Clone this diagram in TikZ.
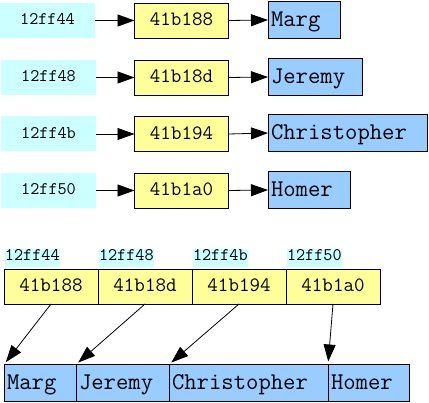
\documentclass[tikz,border=0pt]{standalone}
\usepackage{fontspec}
\usepackage{tikz}
\usetikzlibrary{arrows.meta,positioning}
\definecolor{addrcyan}{HTML}{CCFFFF}
\definecolor{ptryellow}{HTML}{FFFF99}
\definecolor{strblue}{HTML}{99CCFF}
\newcommand\addrtext{\ttfamily\fontsize{17.7pt}{20pt}\selectfont}
\newcommand\ptrtext{\ttfamily\fontsize{20.4pt}{23pt}\selectfont}
\newcommand\strtext{\ttfamily\fontsize{24pt}{27pt}\selectfont}
\begin{document}
\begin{tikzpicture}[
    x=1pt, y=-1pt,
    >={Triangle[length=17pt,width=12pt]},
    addr/.style={fill=addrcyan, inner sep=0pt, outer sep=0pt,
                 minimum width=95pt, minimum height=35pt,
                 text height=12pt, text depth=3pt, font=\addrtext},
    lbl/.style={fill=addrcyan, inner sep=0pt, outer sep=0pt,
                minimum height=18pt, text height=11pt, text depth=5pt,
                font=\addrtext},
    ptr/.style={draw=black, fill=ptryellow, line width=0.8pt, inner sep=0pt,
                outer sep=0pt, minimum width=94pt, minimum height=35pt,
                text height=14pt, text depth=3pt, font=\ptrtext},
    strbox/.style={draw=black, fill=strblue, line width=0.8pt, inner xsep=3pt,
                   inner ysep=0pt, outer sep=0pt, minimum height=37pt,
                   text height=16pt, text depth=3pt,
                   align=left, font=\strtext},
    link/.style={->, line width=0.8pt, black},
]
\useasboundingbox (0,0) rectangle (429,403);

% --- one pointer per variable ---
\node[addr, anchor=west] (a1) at (0,20.5) {12ff44};
\node[ptr] (p1) at (181.5,20.5) {41b188};
\node[strbox, text width=66pt, anchor=south west] (n1) at (268,38.5) {Marg};

\node[addr, anchor=west] (a2) at (1,77.5) {12ff48};
\node[ptr] (p2) at (181.5,77.5) {41b18d};
\node[strbox, text width=88pt, anchor=south west] (n2) at (268,95.5) {Jeremy};

\node[addr, anchor=west] (a3) at (1,134) {12ff4b};
\node[ptr] (p3) at (181.5,134) {41b194};
\node[strbox, text width=153pt, anchor=south west] (n3) at (268,151.5) {Christopher};

\node[addr, anchor=west] (a4) at (1,190.5) {12ff50};
\node[ptr] (p4) at (181.5,190.5) {41b1a0};
\node[strbox, text width=76pt, anchor=south west] (n4) at (268,208.5) {Homer};

\draw[link] (a1.east) -- (p1.west);
\draw[link] (p1.east) -- (n1.west);
\draw[link] (a2.east) -- (p2.west);
\draw[link] (p2.east) -- (n2.west);
\draw[link] (a3.east) -- (p3.west);
\draw[link] (p3.east) -- (n3.west);
\draw[link] (a4.east) -- (p4.west);
\draw[link] (p4.east) -- (n4.west);

% --- the same pointers as one array ---
\node[ptr, anchor=north west] (c1) at (4,269) {41b188};
\node[ptr, right=0pt of c1] (c2) {41b18d};
\node[ptr, right=0pt of c2] (c3) {41b194};
\node[ptr, right=0pt of c3] (c4) {41b1a0};

\node[lbl, above right=2pt and 1pt of c1.north west] (l1) {12ff44};
\node[lbl, above right=2pt and 1pt of c2.north west] (l2) {12ff48};
\node[lbl, above right=2pt and 1pt of c3.north west] (l3) {12ff4b};
\node[lbl, above right=2pt and 1pt of c4.north west] (l4) {12ff50};

% --- the strings, packed end to end ---
\node[strbox, text width=66pt, anchor=north west] (s1) at (4,364.5) {Marg};
\node[strbox, text width=87pt, right=0pt of s1] (s2) {Jeremy};
\node[strbox, text width=153pt, right=0pt of s2] (s3) {Christopher};
\node[strbox, text width=75pt, right=0pt of s3] (s4) {Homer};

\draw[link, shorten >=3pt] (c1.south) -- (s1.north west);
\draw[link, shorten >=3pt] (c2.south) -- (s2.north west);
\draw[link, shorten >=3pt] (c3.south) -- (s3.north west);
\draw[link, shorten >=3pt] (c4.south) -- (s4.north west);
\end{tikzpicture}
\end{document}
